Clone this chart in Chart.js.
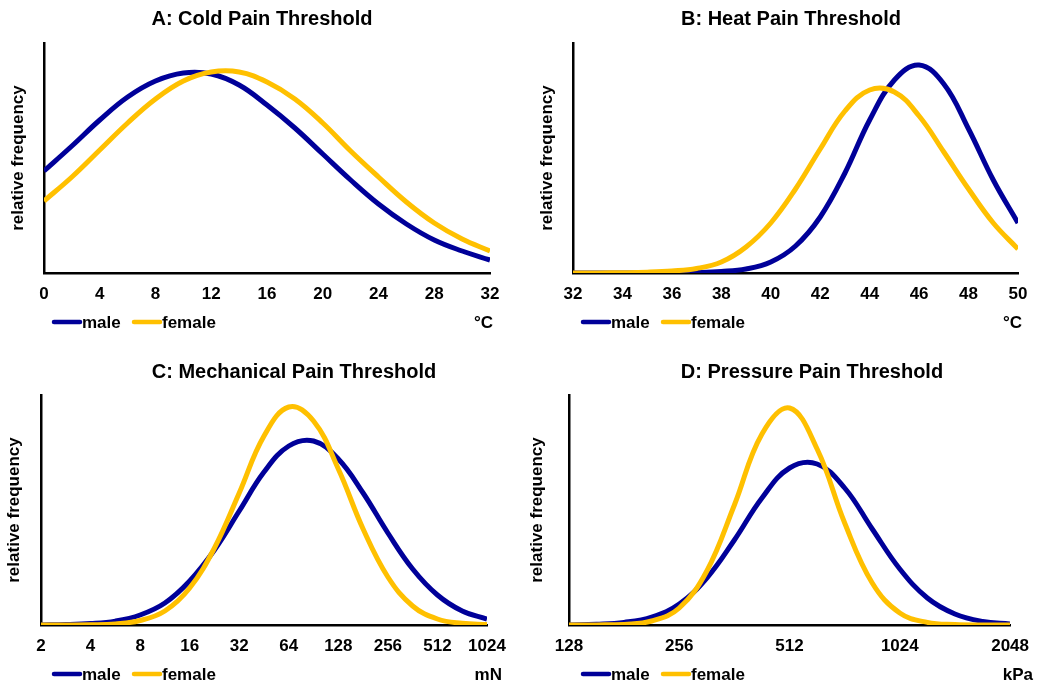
<!DOCTYPE html>
<html>
<head>
<meta charset="utf-8">
<script src="https://cdn.jsdelivr.net/npm/chart.js@4.4.1/dist/chart.umd.min.js"></script>
<style>
  body { margin: 0; background: #fff; }
  canvas { position: absolute; }
</style>
</head>
<body>
<canvas id="chartA" width="520" height="344" style="left:0;top:0"></canvas>
<canvas id="chartB" width="520" height="344" style="left:520px;top:0"></canvas>
<canvas id="chartC" width="520" height="344" style="left:0;top:344px"></canvas>
<canvas id="chartD" width="520" height="344" style="left:520px;top:344px"></canvas>
<script>
const FONT = "'Liberation Sans', Arial, sans-serif";
const BLUE = '#000099';
const GOLD = '#FFC000';

// A: cold pain threshold, °C
const coldX = [0, 2, 4, 6, 8, 10, 12, 14, 16, 18, 20, 22, 24, 26, 28, 30, 32];
const coldMale = [102, 127, 153, 176, 192, 200, 199, 188, 168, 145, 119, 93, 69, 49, 33, 22, 13];
const coldFemale = [72, 96, 123, 150, 174, 192, 201, 201, 191, 174, 150, 122, 96, 71, 50, 34, 22];
const coldTicks = [0, 4, 8, 12, 16, 20, 24, 28, 32];

// B: heat pain threshold, °C
const heatX = [32, 33, 34, 35, 36, 37, 38, 39, 40, 41, 42, 43, 44, 45, 46, 47, 48, 49, 50];
const heatMale = [0, 0, 0, 0, 0.2, 0.5, 1.5, 4, 11, 27, 56, 100, 153, 193, 208, 189, 144, 93, 50];
const heatFemale = [0, 0.1, 0.3, 0.8, 2, 4.5, 11, 26, 50, 84, 124, 162, 183, 181, 157, 121, 84, 50, 24];
const heatTicks = [32, 34, 36, 38, 40, 42, 44, 46, 48, 50];

// C: mechanical pain threshold, mN (log2 axis)
const mechX = [2, 2.83, 4, 5.66, 8, 11.31, 16, 22.63, 32, 45.25, 64, 90.51, 128, 181.02, 256, 362.04, 512, 724.08, 1024];
const mechMale = [0.1, 0.4, 1.4, 3.9, 10, 22, 44, 75, 114, 153, 179, 184, 166, 132, 92, 56, 30, 14, 6];
const mechFemale = [0, 0.05, 0.2, 1.1, 4.5, 14, 37, 77, 132, 189, 218, 204, 156, 96, 48, 19, 6, 1.7, 0.4];
const mechTicks = [2, 4, 8, 16, 32, 64, 128, 256, 512, 1024];

// D: pressure pain threshold, kPa (log2 axis)
const pressX = [128, 152.2, 181, 215.3, 256, 304.4, 362, 430.5, 512, 608.9, 724.1, 861.1, 1024, 1217.7, 1448.2, 1722.2, 2048];
const pressMale = [0.1, 0.7, 2.6, 8, 21, 47, 85, 127, 157, 161, 137, 96, 56, 27, 11, 3.6, 1];
const pressFemale = [0, 0.1, 0.6, 4, 17, 54, 120, 191, 217, 176, 102, 42, 12, 2.6, 0.4, 0, 0];
const pressTicks = [128, 256, 512, 1024, 2048];

const seriesNames = ['male', 'female'];

// title, legend and unit drawn around each chart area
const panelText = {
  id: 'panelText',
  afterDraw(chart, args, opts) {
    const ctx = chart.ctx;
    ctx.save();
    ctx.fillStyle = '#000';
    ctx.textBaseline = 'middle';
    ctx.textAlign = 'center';
    ctx.font = 'bold 20px ' + FONT;
    ctx.fillText(opts.title, opts.titleX, opts.titleY);

    ctx.font = 'bold 17px ' + FONT;
    ctx.textAlign = 'left';
    ctx.lineWidth = 4.5;
    ctx.lineCap = 'round';
    chart.data.datasets.forEach((ds, i) => {
      const x0 = opts.legendX + i * 80;
      ctx.strokeStyle = ds.borderColor;
      ctx.beginPath();
      ctx.moveTo(x0 + 2, opts.legendY);
      ctx.lineTo(x0 + 28, opts.legendY);
      ctx.stroke();
      ctx.fillText(ds.label, x0 + 30, opts.legendY + 1);
    });

    ctx.textAlign = 'right';
    ctx.fillText(opts.unit, opts.unitX, opts.legendY + 1);
    ctx.restore();
  }
};

function makeChart(id, p) {
  const pts = arr => p.x.map((x, i) => ({ x: x, y: arr[i] }));
  return new Chart(document.getElementById(id), {
    type: 'line',
    data: {
      datasets: [
        { label: seriesNames[0], data: pts(p.male), borderColor: BLUE, order: 1 },
        { label: seriesNames[1], data: pts(p.female), borderColor: GOLD, order: 0 }
      ]
    },
    options: {
      responsive: false,
      animation: false,
      layout: { padding: p.pad },
      elements: {
        point: { radius: 0 },
        line: { borderWidth: 5, tension: 0.4, fill: false, borderCapStyle: 'butt' }
      },
      plugins: {
        legend: { display: false },
        tooltip: { enabled: false },
        panelText: p.text
      },
      scales: {
        x: {
          type: p.log ? 'logarithmic' : 'linear',
          min: p.ticks[0],
          max: p.ticks[p.ticks.length - 1],
          afterBuildTicks: axis => { axis.ticks = p.ticks.map(v => ({ value: v })); },
          afterFit: axis => { axis.height = 40; },
          grid: { display: false, drawTicks: false },
          border: { display: true, color: '#000', width: 2.5 },
          ticks: {
            color: '#000',
            font: { family: FONT, size: 17, weight: 'bold' },
            padding: 11,
            maxRotation: 0,
            autoSkip: false,
            callback: v => String(v)
          }
        },
        y: {
          min: 0,
          max: 230,
          afterFit: axis => { axis.width = p.yWidth; },
          grid: { display: false, drawTicks: false },
          border: { display: true, color: '#000', width: 2.5 },
          ticks: { display: false },
          title: {
            display: true,
            text: 'relative frequency',
            color: '#000',
            font: { family: FONT, size: 17, weight: 'bold' },
            padding: { top: p.yTitlePad, bottom: 0 }
          }
        }
      }
    },
    plugins: [panelText]
  });
}

makeChart('chartA', {
  x: coldX, male: coldMale, female: coldFemale, ticks: coldTicks, log: false,
  yWidth: 44, yTitlePad: 7.8,
  pad: { left: 0, top: 43, right: 30, bottom: 31 },
  text: { title: 'A: Cold Pain Threshold', titleX: 262, titleY: 19, legendX: 52, legendY: 322, unit: '°C', unitX: 493 }
});
makeChart('chartB', {
  x: heatX, male: heatMale, female: heatFemale, ticks: heatTicks, log: false,
  yWidth: 53, yTitlePad: 16.8,
  pad: { left: 0, top: 43, right: 22, bottom: 31 },
  text: { title: 'B: Heat Pain Threshold', titleX: 271, titleY: 19, legendX: 61, legendY: 322, unit: '°C', unitX: 502 }
});
makeChart('chartC', {
  x: mechX, male: mechMale, female: mechFemale, ticks: mechTicks, log: true,
  yWidth: 41, yTitlePad: 4.3,
  pad: { left: 0, top: 51, right: 33, bottom: 23 },
  text: { title: 'C: Mechanical Pain Threshold', titleX: 294, titleY: 28, legendX: 52, legendY: 330, unit: 'mN', unitX: 502 }
});
makeChart('chartD', {
  x: pressX, male: pressMale, female: pressFemale, ticks: pressTicks, log: true,
  yWidth: 49, yTitlePad: 7.6,
  pad: { left: 0, top: 51, right: 25, bottom: 23 },
  text: { title: 'D: Pressure Pain Threshold', titleX: 292, titleY: 28, legendX: 61, legendY: 330, unit: 'kPa', unitX: 513 }
});
</script>
</body>
</html>
